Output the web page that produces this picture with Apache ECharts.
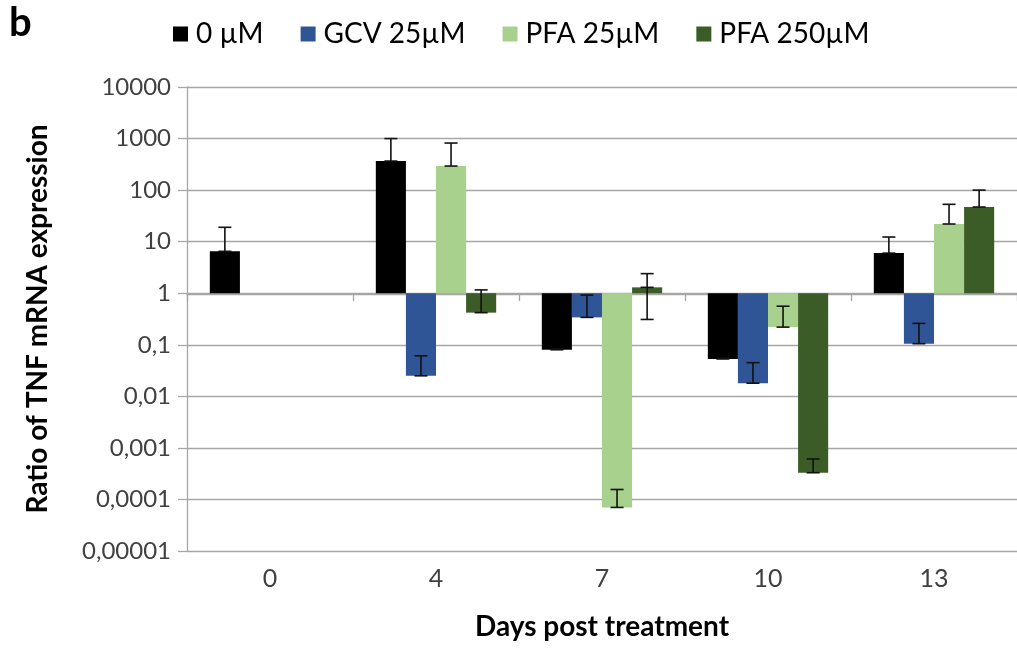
<!DOCTYPE html>
<html>
<head>
<meta charset="utf-8">
<script src="https://cdn.jsdelivr.net/npm/echarts@6/dist/echarts.min.js"></script>
<style>
  html, body { margin: 0; padding: 0; background: #fff; }
  #chart { width: 1017px; height: 650px; }
</style>
</head>
<body>
<div id="chart"></div>
<script>
// ---- data ----
const categories = ['0', '4', '7', '10', '13'];
const seriesNames = ['0 µM', 'GCV 25µM', 'PFA 25µM', 'PFA 250µM'];
const ctrl0      = [6.5, 366, 0.08, 0.053, 6.0];
const gcv25      = [null, 0.025, 0.34, 0.018, 0.105];
const pfa25      = [null, 293, 0.00007, 0.22, 22];
const pfa250     = [null, 0.42, 1.3, 0.00033, 47];
// upper ends of the error bars
const ctrl0Hi    = [19, 1000, 0.083, 0.055, 12.3];
const gcv25Hi    = [null, 0.061, 0.92, 0.045, 0.26];
const pfa25Hi    = [null, 818, 0.000156, 0.56, 53];
const pfa250Hi   = [null, 1.16, 2.4, 0.00061, 100];
// lower ends of the error bars (only where drawn)
const ctrl0Lo    = [null, null, null, null, null];
const gcv25Lo    = [null, null, null, null, null];
const pfa25Lo    = [null, null, null, null, null];
const pfa250Lo   = [null, null, 0.31, null, null];
const yTickLabels = ['0,00001', '0,0001', '0,001', '0,01', '0,1', '1', '10', '100', '1000', '10000'];
const colors = ['#000000', '#2f5597', '#a9d18e', '#3b5c26'];

const values = [ctrl0, gcv25, pfa25, pfa250];
const highs = [ctrl0Hi, gcv25Hi, pfa25Hi, pfa250Hi];
const lows = [ctrl0Lo, gcv25Lo, pfa25Lo, pfa250Lo];

const CAT_GAP = 0.275;
const FONT = 'Lato, "Open Sans", sans-serif';

const errData = [];
values.forEach((arr, si) => {
  arr.forEach((v, ci) => {
    if (v == null || highs[si][ci] == null) return;
    errData.push([ci, si, highs[si][ci], lows[si][ci] == null ? NaN : lows[si][ci], v]);
  });
});

function renderErr(params, api) {
  const ci = api.value(0), si = api.value(1), hi = api.value(2), lo = api.value(3), v = api.value(4);
  const catW = api.coord([1, 1])[0] - api.coord([0, 1])[0];
  const barW = catW * (1 - CAT_GAP) / 4;
  const dx = (si - 1.5) * barW;
  const pv = api.coord([ci, v]);
  const x = pv[0] + dx;
  const ph = api.coord([ci, hi]);
  const cap = 6.5;
  const style = { stroke: '#111', lineWidth: 1.6 };
  const children = [
    { type: 'line', shape: { x1: x, y1: pv[1], x2: x, y2: ph[1] }, style },
    { type: 'line', shape: { x1: x - cap, y1: ph[1], x2: x + cap, y2: ph[1] }, style },
    { type: 'line', shape: { x1: x - cap, y1: pv[1], x2: x + cap, y2: pv[1] }, style }
  ];
  if (!isNaN(lo)) {
    const pl = api.coord([ci, lo]);
    children.push({ type: 'line', shape: { x1: x, y1: pv[1], x2: x, y2: pl[1] }, style });
    children.push({ type: 'line', shape: { x1: x - cap, y1: pl[1], x2: x + cap, y2: pl[1] }, style });
  }
  return { type: 'group', children };
}

const chart = echarts.init(document.getElementById('chart'), null, { renderer: 'canvas' });
const option = {
  animation: false,
  backgroundColor: '#ffffff',
  textStyle: { fontFamily: FONT },
  graphic: [{
    type: 'text', left: 9, top: 3,
    style: { text: 'b', font: 'bold 40px ' + FONT, fill: '#000' }
  }],
  legend: {
    data: seriesNames,
    left: 173, top: 20, padding: 0,
    icon: 'rect', itemWidth: 15, itemHeight: 15, itemGap: 37,
    textStyle: { fontSize: 28, color: '#000', fontFamily: FONT, padding: [0, 0, 0, 3] }
  },
  grid: { left: 187, top: 87, width: 834, bottom: 99, containLabel: false },
  xAxis: [{
    type: 'category', data: categories, position: 'bottom',
    axisLine: { show: false }, axisTick: { show: false },
    axisLabel: { fontSize: 25, color: '#404040', margin: 15, fontFamily: FONT },
    name: 'Days post treatment', nameLocation: 'middle', nameGap: 62,
    nameTextStyle: { fontSize: 28, fontWeight: 'bold', color: '#000', fontFamily: FONT }
  }, {
    type: 'category', data: categories, position: 'bottom', offset: -257,
    axisLine: { show: true, lineStyle: { color: '#a6a6a6', width: 1.3 } },
    axisTick: { show: true, length: 7, lineStyle: { color: '#a6a6a6', width: 1.3 } },
    axisLabel: { show: false }
  }],
  yAxis: {
    type: 'log', logBase: 10, min: 0.00001, max: 10000,
    axisLine: { show: true, lineStyle: { color: '#a6a6a6', width: 1.3 } },
    axisTick: { show: true, length: 9, lineStyle: { color: '#a6a6a6', width: 1.3 } },
    splitLine: { show: true, lineStyle: { color: '#a6a6a6', width: 1.3 } },
    axisLabel: {
      fontSize: 24, color: '#404040', margin: 16, fontFamily: FONT,
      formatter: v => yTickLabels[Math.round(Math.log10(v)) + 5]
    },
    name: 'Ratio of TNF mRNA expression', nameLocation: 'middle', nameGap: 135,
    nameTextStyle: { fontSize: 28, fontWeight: 'bold', color: '#000', fontFamily: FONT }
  },
  series: values.map((arr, si) => ({
    name: seriesNames[si], type: 'bar', data: arr, xAxisIndex: 0,
    barGap: '0%', barCategoryGap: (CAT_GAP * 100) + '%',
    itemStyle: { color: colors[si] }
  })).concat([{
    type: 'custom', xAxisIndex: 0, data: errData, renderItem: renderErr,
    encode: { x: 0, y: 4 }, z: 5, silent: true
  }])
};
chart.setOption(option);
</script>
</body>
</html>
